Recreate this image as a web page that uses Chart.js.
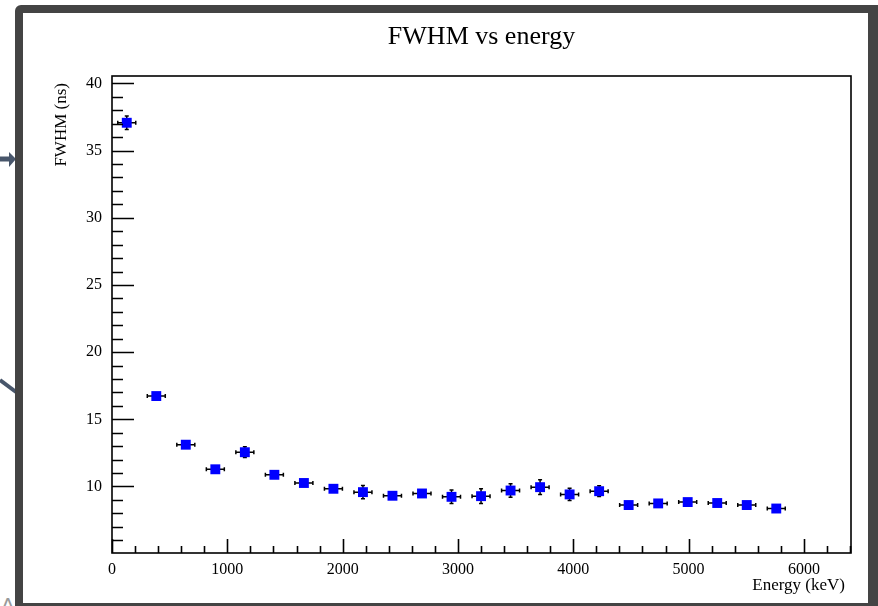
<!DOCTYPE html>
<html>
<head>
<meta charset="utf-8">
<script src="https://cdn.jsdelivr.net/npm/chart.js@4.4.0/dist/chart.umd.min.js"></script>
<style>
html, body { margin: 0; padding: 0; background: #fff; width: 878px; height: 606px; overflow: hidden; }
#bg { position: absolute; left: 0; top: 0; }
#frame {
  position: absolute; left: 15px; top: 5px; width: 845px; height: 590px;
  border-style: solid; border-color: #444; border-width: 8px 10px 3px 8px;
  border-top-left-radius: 6px; background: #fff;
}
#wrap { position: absolute; left: 0; top: 0; width: 845px; height: 590px; }
</style>
</head>
<body>
<!-- bits of the slide behind the canvas -->
<svg id="bg" width="878" height="606">
  <line x1="0" y1="159" x2="11" y2="159" stroke="#48566b" stroke-width="5"/>
  <polygon points="9,152 16,159 9,167" fill="#48566b"/>
  <line x1="0" y1="380" x2="16" y2="392" stroke="#48566b" stroke-width="4"/>
  <text x="1" y="612" font-family="DejaVu Sans" font-size="20" fill="#9a9a9a">A</text>
</svg>
<div id="frame"><div id="wrap"><canvas id="myChart"></canvas></div></div>

<script>
// data
const energyKeV = [128, 384, 640, 896, 1152, 1408, 1664, 1920, 2176, 2432, 2688, 2944,
                   3200, 3456, 3712, 3968, 4224, 4480, 4736, 4992, 5248, 5504, 5760];
const fwhmNs = [37.07, 16.73, 13.11, 11.28, 12.55, 10.87, 10.26, 9.83, 9.58, 9.31, 9.48, 9.23,
                9.28, 9.70, 9.95, 9.41, 9.65, 8.62, 8.74, 8.84, 8.77, 8.62, 8.36];
const fwhmErr = [0.5, 0.15, 0.15, 0.15, 0.4, 0.3, 0.2, 0.2, 0.5, 0.2, 0.35, 0.5,
                 0.55, 0.5, 0.55, 0.45, 0.4, 0.35, 0.3, 0.25, 0.25, 0.25, 0.3];
const energyErr = [78, 78, 78, 78, 78, 78, 78, 78, 78, 78, 78, 78,
                   78, 78, 78, 78, 78, 78, 78, 78, 78, 78, 78];

const xTicks = [0, 1000, 2000, 3000, 4000, 5000, 6000];
const yTicks = [10, 15, 20, 25, 30, 35, 40];

const serif = '"Liberation Serif", "DejaVu Serif", serif';

// ROOT style: frame, inward ticks, titles, error bars
const rootStyle = {
    id: 'rootStyle',
    beforeDatasetsDraw(chart) {
        const ctx = chart.ctx;
        const xs = chart.scales.x, ys = chart.scales.y;
        ctx.save();
        ctx.strokeStyle = '#000';
        ctx.lineWidth = 1.5;
        for (let i = 0; i < energyKeV.length; i++) {
            const px = xs.getPixelForValue(energyKeV[i]);
            const py = ys.getPixelForValue(fwhmNs[i]);
            const x0 = xs.getPixelForValue(energyKeV[i] - energyErr[i]);
            const x1 = xs.getPixelForValue(energyKeV[i] + energyErr[i]);
            const y0 = ys.getPixelForValue(fwhmNs[i] - fwhmErr[i]);
            const y1 = ys.getPixelForValue(fwhmNs[i] + fwhmErr[i]);
            ctx.beginPath();
            ctx.moveTo(x0, py); ctx.lineTo(x1, py);
            ctx.moveTo(x0, py - 2); ctx.lineTo(x0, py + 2);
            ctx.moveTo(x1, py - 2); ctx.lineTo(x1, py + 2);
            if (y0 - py > 5) {
                ctx.moveTo(px, y0); ctx.lineTo(px, y1);
                ctx.moveTo(px - 2, y0); ctx.lineTo(px + 2, y0);
                ctx.moveTo(px - 2, y1); ctx.lineTo(px + 2, y1);
            }
            ctx.stroke();
        }
        ctx.restore();
    },
    afterDraw(chart) {
        const ctx = chart.ctx;
        const a = chart.chartArea;
        const xs = chart.scales.x, ys = chart.scales.y;
        ctx.save();
        ctx.strokeStyle = '#000';
        ctx.lineWidth = 1.6;
        ctx.strokeRect(a.left, a.top, a.right - a.left, a.bottom - a.top);

        ctx.beginPath();
        for (let v = 0; v <= xs.max; v += 200) {
            const p = Math.round(xs.getPixelForValue(v)) + 0.5;
            const len = v % 1000 === 0 ? 14 : 7;
            ctx.moveTo(p, a.bottom); ctx.lineTo(p, a.bottom - len);
        }
        for (let v = Math.ceil(ys.min); v <= ys.max; v += 1) {
            const p = Math.round(ys.getPixelForValue(v)) + 0.5;
            const len = v % 5 === 0 ? 22 : 11;
            ctx.moveTo(a.left, p); ctx.lineTo(a.left + len, p);
        }
        ctx.stroke();

        ctx.fillStyle = '#000';
        ctx.font = '26px ' + serif;
        ctx.textAlign = 'center';
        ctx.textBaseline = 'alphabetic';
        ctx.fillText('FWHM vs energy', (a.left + a.right) / 2, 31);

        ctx.font = '17px ' + serif;
        ctx.textAlign = 'right';
        ctx.fillText('Energy (keV)', a.right - 6, 577);

        ctx.translate(39, a.top + 7);
        ctx.rotate(-Math.PI / 2);
        ctx.textBaseline = 'middle';
        ctx.fillText('FWHM (ns)', 0, 0);
        ctx.restore();
    }
};

const ctx = document.getElementById('myChart').getContext('2d');
const chart = new Chart(ctx, {
    type: 'scatter',
    data: {
        datasets: [{
            label: 'FWHM',
            data: energyKeV.map((e, i) => ({ x: e, y: fwhmNs[i] })),
            pointStyle: 'rect',
            pointRadius: 7,
            pointHoverRadius: 7,
            backgroundColor: '#0000ff',
            borderWidth: 0
        }]
    },
    options: {
        responsive: true,
        maintainAspectRatio: false,
        animation: false,
        events: [],
        layout: { padding: { top: 63, right: 17, left: 0, bottom: 0 } },
        plugins: { legend: { display: false }, tooltip: { enabled: false }, title: { display: false } },
        scales: {
            x: {
                type: 'linear', min: 0, max: 6408,
                afterBuildTicks: s => { s.ticks = xTicks.map(v => ({ value: v })); },
                afterFit: s => { s.height = 50; },
                grid: { display: false, drawTicks: false },
                border: { display: false },
                ticks: {
                    autoSkip: false, maxRotation: 0, padding: 7,
                    color: '#000', font: { family: serif, size: 16 },
                    callback: v => String(Math.round(v))
                }
            },
            y: {
                type: 'linear', min: 5.05, max: 40.55,
                afterBuildTicks: s => { s.ticks = yTicks.map(v => ({ value: v })); },
                afterFit: s => { s.width = 89; },
                grid: { display: false, drawTicks: false },
                border: { display: false },
                ticks: {
                    autoSkip: false, padding: 10,
                    color: '#000', font: { family: serif, size: 16 },
                    callback: v => String(Math.round(v))
                }
            }
        }
    },
    plugins: [rootStyle]
});
</script>
</body>
</html>
